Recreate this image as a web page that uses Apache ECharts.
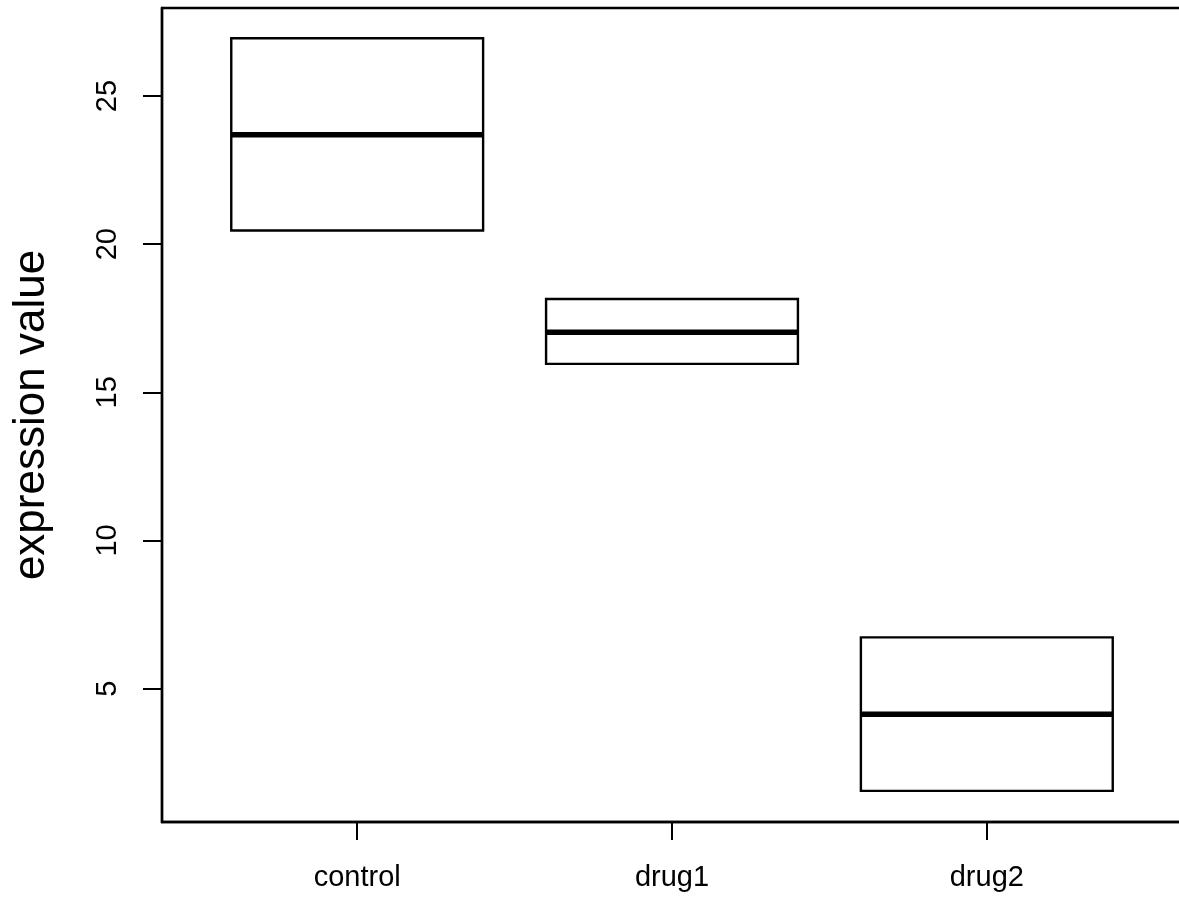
<!DOCTYPE html>
<html>
<head>
<meta charset="utf-8">
<title>expression value by group</title>
<script src="https://cdn.jsdelivr.net/npm/echarts@6/dist/echarts.min.js"></script>
<style>
  html, body { margin: 0; padding: 0; background: #ffffff; }
  #chart { width: 1179px; height: 902px; }
</style>
</head>
<body>
<div id="chart"></div>
<script>
// Groups and their box statistics (lower hinge, median, upper hinge)
const categories = ['control', 'drug1', 'drug2'];
const lowerHinge = [20.46, 15.96, 1.55];
const medians = [23.69, 17.03, 4.14];
const upperHinge = [26.95, 18.15, 6.73];

// Axis ticks and ranges
const yTicks = [5, 10, 15, 20, 25];
const xTicks = [1, 2, 3];
const xRange = [0.38, 3.62];
const yRange = [0.5, 27.97];
const boxWidth = 0.8;

const fontFamily = '"Liberation Sans", Arial, Helvetica, sans-serif';

const boxData = categories.map((c, i) => [i + 1, lowerHinge[i], medians[i], upperHinge[i]]);

function renderBox(params, api) {
  const x = api.value(0);
  const lo = api.value(1);
  const med = api.value(2);
  const hi = api.value(3);
  const half = boxWidth / 2;
  const tl = api.coord([x - half, hi]);
  const br = api.coord([x + half, lo]);
  const ml = api.coord([x - half, med]);
  const mr = api.coord([x + half, med]);
  return {
    type: 'group',
    children: [
      {
        type: 'rect',
        shape: { x: tl[0], y: tl[1], width: br[0] - tl[0], height: br[1] - tl[1] },
        style: { fill: '#ffffff', stroke: '#000000', lineWidth: 2.4 }
      },
      {
        type: 'line',
        shape: { x1: ml[0], y1: ml[1], x2: mr[0], y2: mr[1] },
        style: { stroke: '#000000', lineWidth: 5.5 }
      }
    ]
  };
}

const chart = echarts.init(document.getElementById('chart'), null, { renderer: 'canvas' });

chart.setOption({
  animation: false,
  backgroundColor: '#ffffff',
  grid: {
    left: 162,
    top: 8,
    width: 1020,
    height: 814,
    outerBoundsMode: 'none',
    show: true,
    borderColor: '#000000',
    borderWidth: 2.4,
    backgroundColor: 'transparent'
  },
  xAxis: {
    type: 'value',
    min: xRange[0],
    max: xRange[1],
    axisLine: { show: true, lineStyle: { color: '#000000', width: 2.4 } },
    axisTick: {
      show: true,
      customValues: xTicks,
      length: 18,
      lineStyle: { color: '#000000', width: 2 }
    },
    axisLabel: {
      customValues: xTicks,
      formatter: v => categories[Math.round(v) - 1] || '',
      color: '#000000',
      fontFamily: fontFamily,
      fontSize: 29,
      margin: 41
    },
    splitLine: { show: false }
  },
  yAxis: {
    type: 'value',
    min: yRange[0],
    max: yRange[1],
    name: 'expression value',
    nameLocation: 'middle',
    nameRotate: 90,
    nameGap: 108,
    nameTextStyle: { color: '#000000', fontFamily: fontFamily, fontSize: 44 },
    axisLine: { show: true, lineStyle: { color: '#000000', width: 2.4 } },
    axisTick: {
      show: true,
      customValues: yTicks,
      length: 19,
      lineStyle: { color: '#000000', width: 2 }
    },
    axisLabel: {
      customValues: yTicks,
      rotate: 90,
      color: '#000000',
      fontFamily: fontFamily,
      fontSize: 29,
      margin: 40
    },
    splitLine: { show: false }
  },
  series: [
    {
      type: 'custom',
      renderItem: renderBox,
      data: boxData,
      encode: { x: 0, y: [1, 2, 3] },
      clip: false
    }
  ]
});
</script>
</body>
</html>
